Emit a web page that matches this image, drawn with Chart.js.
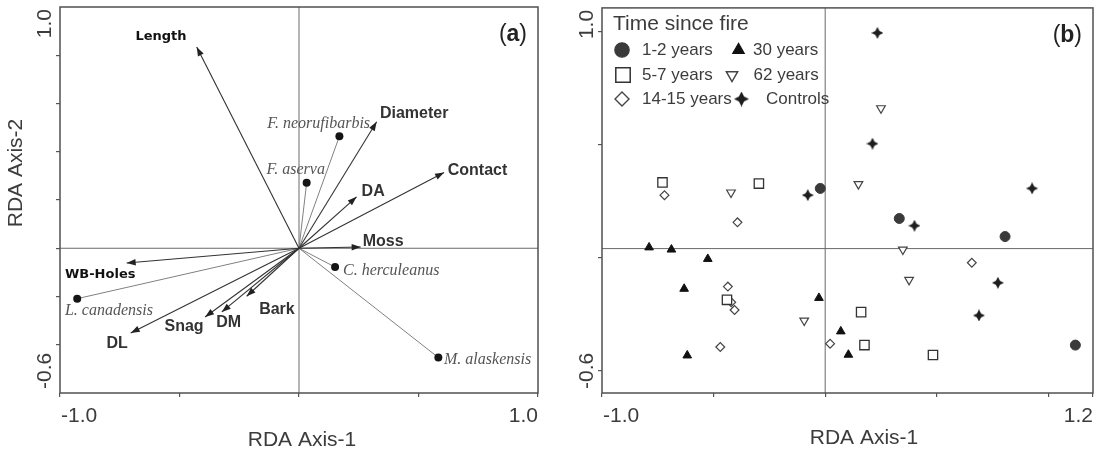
<!DOCTYPE html>
<html><head><meta charset="utf-8">
<script src="https://cdn.jsdelivr.net/npm/chart.js@4.4.0/dist/chart.umd.min.js"></script>
<style>
html,body{margin:0;padding:0;background:#fff;width:1101px;height:455px;overflow:hidden}
canvas{position:absolute;top:0}
#ca{left:0} #cb{left:550px}
</style>
</head><body>
<canvas id="ca" width="550" height="455"></canvas>
<canvas id="cb" width="551" height="455"></canvas>
<script>
// ---------------- DATA: panel (a) ----------------
const envVars = ['Length','Diameter','Contact','DA','Moss','WB-Holes','DL','Snag','DM','Bark'];
const envX = [-0.428, 0.325, 0.607, 0.241, 0.258, -0.721, -0.704, -0.393, -0.323, -0.219];
const envY = [ 0.834, 0.524, 0.314, 0.213, 0.005, -0.061, -0.351, -0.285, -0.264, -0.199];
const species = ['F. neorufibarbis','F. aserva','C. herculeanus','M. alaskensis','L. canadensis'];
const spX = [0.169, 0.032, 0.151, 0.583, -0.928];
const spY = [0.464, 0.271, -0.078, -0.453, -0.209];
const xTicksA = [-1.0, -0.5, 0, 0.5, 1.0];
const yTicksA = [-0.4, -0.2, 0, 0.2, 0.4, 0.6, 0.8];
const xTickLabelsA = ['-1.0', '1.0'];
const yTickLabelsA = ['-0.6', '1.0'];

// ---------------- DATA: panel (b) ----------------
const groupNames = ['1-2 years','5-7 years','14-15 years','30 years','62 years','Controls'];
const yrs1to2X  = [-0.022, 0.332, 0.806, 1.121];
const yrs1to2Y  = [ 0.250, 0.125, 0.050, -0.401];
const yrs5to7X  = [-0.729, -0.297, -0.440, 0.161, 0.176, 0.483];
const yrs5to7Y  = [ 0.275, 0.270, -0.213, -0.264, -0.401, -0.442];
const yrs14to15X = [-0.720, -0.393, 0.657, -0.436, -0.421, -0.406, -0.470, 0.022];
const yrs14to15Y = [ 0.222, 0.109, -0.059, -0.158, -0.223, -0.255, -0.409, -0.395];
const yrs30X = [-0.789, -0.689, -0.526, -0.632, -0.618, -0.028, 0.070, 0.104];
const yrs30Y = [ 0.005, -0.004, -0.043, -0.167, -0.444, -0.205, -0.344, -0.441];
const yrs62X = [-0.422, 0.250, 0.149, 0.348, 0.376, -0.094];
const yrs62Y = [ 0.233, 0.583, 0.268, -0.004, -0.130, -0.299];
const controlsX = [0.234, 0.212, -0.078, 0.927, 0.400, 0.774, 0.689];
const controlsY = [0.896, 0.436, 0.222, 0.250, 0.095, -0.142, -0.278];
const xTicksB = [-1.0, -0.5, 0, 0.5, 1.0, 1.2];
const yTicksB = [-0.506, -0.039, 0.431, 0.900];
const xTickLabelsB = ['-1.0', '1.2'];
const yTickLabelsB = ['-0.6', '1.0'];

// ---------------- STYLE / LAYOUT (not data) ----------------
const SANS = '"Liberation Sans", Arial, sans-serif';
const TXT = '#3c3c3c';
// label offset from arrow tip in px: dx, dy, align, font, colour
const envLabelStyle = [
  [-35.7, -10.7, 'center', 'bold 13px "DejaVu Sans"', '#111'],
  [3.3, -8.7, 'left', 'bold 16px ' + SANS, '#333'],
  [3.7, -2.3, 'left', 'bold 16px ' + SANS, '#333'],
  [5, -5, 'left', 'bold 16px ' + SANS, '#333'],
  [2, -5, 'left', 'bold 16px ' + SANS, '#333'],
  [-61.7, 11.3, 'left', 'bold 13px "DejaVu Sans"', '#111'],
  [-13.7, 10.6, 'center', 'bold 16px ' + SANS, '#333'],
  [-21, 9.3, 'center', 'bold 16px ' + SANS, '#333'],
  [6.8, 10.6, 'center', 'bold 16px ' + SANS, '#333'],
  [30.3, 13.3, 'center', 'bold 16px ' + SANS, '#333']
];
const spLabelStyle = [
  [30.7, -13, 'right'],
  [18.3, -12.7, 'right'],
  [8, 3.3, 'left'],
  [5.7, 2.7, 'left'],
  [-12.3, 12.4, 'left']
];

function starCanvas(size, color) {
  const c = document.createElement('canvas');
  c.width = size; c.height = size;
  const g = c.getContext('2d');
  const m = size / 2, k = size * 0.17;
  g.fillStyle = color;
  g.beginPath();
  g.moveTo(m, 0); g.lineTo(m + k, m - k); g.lineTo(size, m); g.lineTo(m + k, m + k);
  g.lineTo(m, size); g.lineTo(m - k, m + k); g.lineTo(0, m); g.lineTo(m - k, m - k);
  g.closePath(); g.fill();
  return c;
}
const starSmall = starCanvas(12, '#1e1e1e');
const starBig = starCanvas(15, '#1e1e1e');

const zip = (xs, ys) => xs.map((x, i) => ({x, y: ys[i]}));

function axisCfg(min, max, tickVals, isX) {
  return {
    type: 'linear', min, max,
    afterBuildTicks: s => { s.ticks = tickVals.map(v => ({value: v})); },
    afterFit: s => { if (isX) s.height = 0; else s.width = 0; },
    ticks: {display: false},
    grid: {drawOnChartArea: false, color: '#555', tickColor: '#555', tickLength: 4, lineWidth: 1.2},
    border: {display: false}
  };
}

function frameAndAxisText(chart, cfg) {
  const {ctx, chartArea: a, scales} = chart;
  ctx.save();
  ctx.strokeStyle = '#505050'; ctx.lineWidth = 1.5;
  ctx.strokeRect(a.left, a.top, a.right - a.left, a.bottom - a.top);
  ctx.fillStyle = TXT; ctx.font = '21px ' + SANS; ctx.textBaseline = 'middle';
  ctx.textAlign = 'left';
  ctx.fillText(cfg.xLabels[0], scales.x.getPixelForValue(scales.x.min) + 1, a.bottom + 23);
  ctx.textAlign = 'right';
  ctx.fillText(cfg.xLabels[1], scales.x.getPixelForValue(scales.x.max), a.bottom + 23);
  [[scales.y.min, cfg.yLabels[0]], [scales.y.max, cfg.yLabels[1]]].forEach(([v, t]) => {
    const w = ctx.measureText(t).width;
    let py = scales.y.getPixelForValue(v);
    py = Math.min(Math.max(py, a.top + w / 2 + 2), a.bottom - w / 2 - 4);
    ctx.save(); ctx.translate(a.left - 15, py); ctx.rotate(-Math.PI / 2);
    ctx.textAlign = 'center'; ctx.fillText(t, 0, 0); ctx.restore();
  });
  ctx.textAlign = 'center';
  ctx.fillText('RDA Axis-1', cfg.xTitle[0], cfg.xTitle[1]);
  if (cfg.yTitle) {
    ctx.save(); ctx.translate(cfg.yTitle[0], cfg.yTitle[1]); ctx.rotate(-Math.PI / 2);
    ctx.fillText('RDA Axis-2', 0, 0); ctx.restore();
  }
  // panel letter "(a)" with bold letter
  ctx.textAlign = 'left'; ctx.fillStyle = '#222';
  const p1 = '(', p2 = cfg.letter, p3 = ')';
  ctx.font = '23px ' + SANS; const w1 = ctx.measureText(p1).width, w3 = ctx.measureText(p3).width;
  ctx.font = 'bold 23px ' + SANS; const w2 = ctx.measureText(p2).width;
  let x = a.right - 11 - (w1 + w2 + w3);
  const y = a.top + 28;
  ctx.font = '23px ' + SANS; ctx.fillText(p1, x, y); x += w1;
  ctx.font = 'bold 23px ' + SANS; ctx.fillText(p2, x, y); x += w2;
  ctx.font = '23px ' + SANS; ctx.fillText(p3, x, y);
  ctx.restore();
}

// ---------------- Chart (a) ----------------
const dsA = [];
dsA.push({data: [{x: -1, y: 0}, {x: 1, y: 0}], showLine: true, borderColor: '#6a6a6a', borderWidth: 1, pointRadius: 0, order: 10});
dsA.push({data: [{x: 0, y: -0.6}, {x: 0, y: 1.0}], showLine: true, borderColor: '#6a6a6a', borderWidth: 1, pointRadius: 0, order: 10});
species.forEach((s, i) => dsA.push({
  label: s, data: [{x: 0, y: 0}, {x: spX[i], y: spY[i]}], showLine: true,
  borderColor: '#808080', borderWidth: 1, pointRadius: [0, 4], pointBackgroundColor: '#151515',
  pointBorderColor: '#151515', pointBorderWidth: 0, order: 5, kind: 'species', idx: i
}));
envVars.forEach((s, i) => dsA.push({
  label: s, data: [{x: 0, y: 0}, {x: envX[i], y: envY[i]}], showLine: true,
  borderColor: '#333', borderWidth: 1.1, pointRadius: 0, order: 1, kind: 'arrow', idx: i
}));

const biplotPlugin = {
  id: 'biplot',
  afterDatasetsDraw(chart) {
    const ctx = chart.ctx;
    ctx.save();
    chart.data.datasets.forEach((ds, di) => {
      if (!ds.kind) return;
      const meta = chart.getDatasetMeta(di);
      const p0 = meta.data[0], p1 = meta.data[1];
      if (ds.kind === 'arrow') {
        const ang = Math.atan2(p1.y - p0.y, p1.x - p0.x);
        const L = 9, H = 3.2;
        ctx.fillStyle = '#222';
        ctx.beginPath();
        ctx.moveTo(p1.x, p1.y);
        ctx.lineTo(p1.x - L * Math.cos(ang) + H * Math.sin(ang), p1.y - L * Math.sin(ang) - H * Math.cos(ang));
        ctx.lineTo(p1.x - L * Math.cos(ang) - H * Math.sin(ang), p1.y - L * Math.sin(ang) + H * Math.cos(ang));
        ctx.closePath(); ctx.fill();
        const st = envLabelStyle[ds.idx];
        ctx.font = st[3]; ctx.fillStyle = st[4]; ctx.textAlign = st[2]; ctx.textBaseline = 'middle';
        ctx.fillText(envVars[ds.idx], p1.x + st[0], p1.y + st[1]);
      } else if (ds.kind === 'species') {
        const st = spLabelStyle[ds.idx];
        ctx.font = 'italic 16px "Liberation Serif", "Times New Roman", serif';
        ctx.fillStyle = '#555'; ctx.textAlign = st[2]; ctx.textBaseline = 'middle';
        ctx.fillText(species[ds.idx], p1.x + st[0], p1.y + st[1]);
      }
    });
    ctx.restore();
  },
  afterDraw(chart) {
    frameAndAxisText(chart, {xLabels: xTickLabelsA, yLabels: yTickLabelsA, xTitle: [302, 440], yTitle: [16, 173], letter: 'a'});
  }
};

new Chart(document.getElementById('ca'), {
  type: 'scatter',
  data: {datasets: dsA},
  options: {
    responsive: false, animation: false, events: [],
    layout: {padding: {left: 60, right: 12, top: 7, bottom: 62}},
    plugins: {legend: {display: false}, tooltip: {enabled: false}},
    scales: {x: axisCfg(-1, 1, xTicksA, true), y: axisCfg(-0.6, 1.0, yTicksA, false)}
  },
  plugins: [biplotPlugin]
});

// ---------------- Chart (b) ----------------
const groupStyles = [
  {pointStyle: 'circle', pointRadius: 5, pointBackgroundColor: '#3a3a3a', pointBorderColor: '#3a3a3a', pointBorderWidth: 1, legendRadius: 7.2},
  {pointStyle: 'rect', pointRadius: 6.6, pointBackgroundColor: '#fff', pointBorderColor: '#333', pointBorderWidth: 1.3, legendRadius: 10.2},
  {pointStyle: 'rectRot', pointRadius: 4.4, pointBackgroundColor: '#fff', pointBorderColor: '#444', pointBorderWidth: 1.2, legendRadius: 7},
  {pointStyle: 'triangle', pointRadius: 5, pointBackgroundColor: '#111', pointBorderColor: '#111', pointBorderWidth: 1, legendRadius: 6.6},
  {pointStyle: 'triangle', pointRotation: 180, pointRadius: 5, pointBackgroundColor: '#fff', pointBorderColor: '#444', pointBorderWidth: 1.2, legendRadius: 6.6},
  {pointStyle: starSmall, pointRadius: 5, pointBackgroundColor: '#1e1e1e', pointBorderColor: '#1e1e1e', pointBorderWidth: 0, legendRadius: 6, legendStyle: starBig}
];
const groupData = [
  zip(yrs1to2X, yrs1to2Y), zip(yrs5to7X, yrs5to7Y), zip(yrs14to15X, yrs14to15Y),
  zip(yrs30X, yrs30Y), zip(yrs62X, yrs62Y), zip(controlsX, controlsY)
];
const dsB = [
  {data: [{x: -1, y: 0}, {x: 1.2, y: 0}], showLine: true, borderColor: '#6a6a6a', borderWidth: 1, pointRadius: 0, order: 10},
  {data: [{x: 0, y: -0.6}, {x: 0, y: 1.0}], showLine: true, borderColor: '#6a6a6a', borderWidth: 1, pointRadius: 0, order: 10}
];
groupNames.forEach((g, i) => dsB.push(Object.assign({label: g, data: groupData[i], showLine: false, order: 1}, groupStyles[i])));

// legend layout: [dataset index, symbol x, text x, y] in canvas px
const legendLayout = [
  [0, 72, 92, 50], [3, 188.5, 203, 50],
  [1, 73, 92, 75], [4, 182, 203.5, 75],
  [2, 72, 92, 99], [5, 191.5, 216, 99]
];

const legendPlugin = {
  id: 'fireLegend',
  afterDraw(chart) {
    const ctx = chart.ctx;
    ctx.save();
    ctx.fillStyle = TXT; ctx.font = '21px ' + SANS; ctx.textAlign = 'left'; ctx.textBaseline = 'middle';
    ctx.fillText('Time since fire', 63, 24);
    ctx.font = '17px ' + SANS;
    legendLayout.forEach(([gi, sx, tx, y]) => {
      const st = groupStyles[gi];
      ctx.fillStyle = st.pointBackgroundColor; ctx.strokeStyle = st.pointBorderColor;
      ctx.lineWidth = st.pointBorderWidth + 0.2;
      Chart.helpers.drawPoint(ctx, {pointStyle: st.legendStyle || st.pointStyle, radius: st.legendRadius,
        rotation: st.pointRotation || 0, borderWidth: st.pointBorderWidth}, sx, y);
      ctx.fillStyle = TXT;
      ctx.fillText(groupNames[gi], tx, y);
    });
    ctx.restore();
    frameAndAxisText(chart, {xLabels: xTickLabelsB, yLabels: yTickLabelsB, xTitle: [314, 438], yTitle: null, letter: 'b'});
  }
};

new Chart(document.getElementById('cb'), {
  type: 'scatter',
  data: {datasets: dsB},
  options: {
    responsive: false, animation: false, events: [],
    layout: {padding: {left: 52, right: 8, top: 7, bottom: 62}},
    plugins: {legend: {display: false}, tooltip: {enabled: false}},
    scales: {x: axisCfg(-1, 1.2, xTicksB, true), y: axisCfg(-0.6, 1.0, yTicksB, false)}
  },
  plugins: [legendPlugin]
});
</script>
</body></html>
